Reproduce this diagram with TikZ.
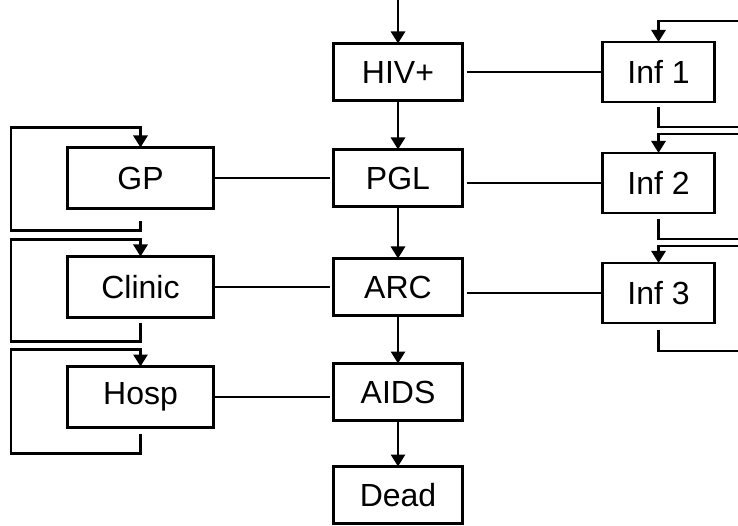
\documentclass[tikz,border=0pt]{standalone}
\usepackage{fontspec}
\setmainfont{Liberation Sans}
\usetikzlibrary{arrows.meta, positioning, calc}

\begin{document}
\begin{tikzpicture}[
    x=1pt, y=1pt,
    box/.style={rectangle, draw=black, line width=2.8pt, outer sep=0pt, minimum width=129pt, minimum height=57pt, inner sep=0pt, font=\fontsize{32}{38}\selectfont},
    carebox/.style={box, minimum width=146pt, minimum height=61pt},
    infbox/.style={box, minimum width=112pt, minimum height=60pt},
    arrow/.style={-{Triangle[length=12pt, width=14pt]}, line width=2.8pt, color=black},
    link/.style={line width=2.8pt, color=black}
]
\useasboundingbox (0,0) rectangle (738,525);

% Disease stages
\node[box] at (398,453) (hiv) {HIV+};
\node[box, below=49pt of hiv] (pgl) {PGL};
\node[box, below=52pt of pgl] (arc) {ARC};
\node[box, below=48pt of arc] (aids) {AIDS};
\node[box, below=46pt of aids] (dead) {Dead};

% Care settings
\node[carebox, left=120pt of pgl] (gp) {GP};
\node[carebox, left=120pt of arc] (clinic) {Clinic};
\node[carebox, left=120pt of aids, yshift=-5pt] (hosp) {Hosp};

% Infectivity
\node[infbox, right=140pt of hiv] (inf1) {Inf 1};
\node[infbox, right=140pt of pgl, yshift=-5pt] (inf2) {Inf 2};
\node[infbox, right=140pt of arc, yshift=-6pt] (inf3) {Inf 3};

% Edges of the page
\coordinate (top) at (398,525);
\coordinate (rim) at (738,0);
\coordinate (lrim) at (11,0);

\draw[arrow] (top) -- (hiv);
\draw[arrow] (hiv) -- (pgl);
\draw[arrow] (pgl) -- (arc);
\draw[arrow] (arc) -- (aids);
\draw[arrow] (aids) -- (dead);

\draw[link, shorten >=4pt] (gp) -- (pgl);
\draw[link, shorten >=4pt] (clinic) -- (arc);
\draw[link, shorten >=4pt] (hosp.east) -- (hosp.east -| aids.west);
\draw[link, shorten <=4pt] (hiv) -- (inf1);
\draw[link, shorten <=4pt] (inf2.west -| pgl.east) -- (inf2.west);
\draw[link, shorten <=4pt] (inf3.west -| arc.east) -- (inf3.west);

% Loops on the left
\coordinate (gpin) at ($(gp.north)+(0,20)$);
\coordinate (gpout) at ($(gp.south)+(0,-22)$);
\coordinate (clin) at ($(clinic.north)+(0,17)$);
\coordinate (clout) at ($(clinic.south)+(0,-24)$);
\coordinate (hoin) at ($(hosp.north)+(0,17)$);
\coordinate (hoout) at ($(hosp.south)+(0,-26)$);
\draw[arrow] ([yshift=-13pt]gp.south) -- (gpout) -- (gpout -| lrim) -- (gpin -| lrim) -- (gpin) -- (gp);
\draw[arrow] ([yshift=-5pt]clinic.south) -- (clout) -- (clout -| lrim) -- (clin -| lrim) -- (clin) -- (clinic);
\draw[arrow] ([yshift=-6pt]hosp.south) -- (hoout) -- (hoout -| lrim) -- (hoin -| lrim) -- (hoin) -- (hosp);

% Loops on the right
\coordinate (i1in) at ($(inf1.north)+(0,21)$);
\coordinate (i1out) at ($(inf1.south)+(0,-25)$);
\coordinate (i2in) at ($(inf2.north)+(0,19)$);
\coordinate (i2out) at ($(inf2.south)+(0,-26)$);
\coordinate (i3in) at ($(inf3.north)+(0,17)$);
\coordinate (i3out) at ($(inf3.south)+(0,-28)$);
\draw[arrow] (i1in -| rim) -- (i1in) -- (inf1);
\draw[link] ([yshift=-5pt]inf1.south) -- (i1out) -- (i1out -| rim);
\draw[arrow] (i2in -| rim) -- (i2in) -- (inf2);
\draw[link] ([yshift=-6pt]inf2.south) -- (i2out) -- (i2out -| rim);
\draw[arrow] (i3in -| rim) -- (i3in) -- (inf3);
\draw[link] ([yshift=-7pt]inf3.south) -- (i3out) -- (i3out -| rim);
\end{tikzpicture}
\end{document}
